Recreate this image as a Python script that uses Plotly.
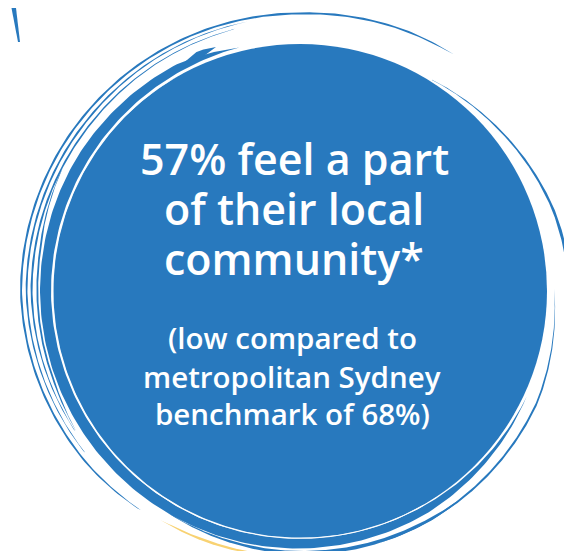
import numpy as np
import plotly.graph_objects as go

# ---- data ----
local_pct = 57
benchmark_pct = 68
headline_lines = [f"{local_pct}% feel a part", "of their local", "community*"]
note_lines = ["(low compared to", "metropolitan Sydney", f"benchmark of {benchmark_pct}%)"]

# ---- style ----
W, H = 572, 551
BLUE = "#2879BE"
YELLOW = "#F8D272"
CX, CY, R = 292, 283, 247


def arc_poly(thetas, radii, widths, n=240):
    thetas = np.asarray(thetas, float)
    u_k = (thetas - thetas[0]) / (thetas[-1] - thetas[0])
    u = np.linspace(0, 1, n)
    th = np.deg2rad(np.interp(u, u_k, thetas))
    r = np.interp(u, u_k, radii)
    w = np.interp(u, u_k, widths)
    ro, ri = r + w / 2, r - w / 2
    xo, yo = CX + ro * np.cos(th), CY - ro * np.sin(th)
    xi, yi = CX + ri * np.cos(th), CY - ri * np.sin(th)
    x = np.concatenate([xo, xi[::-1], xo[:1]])
    y = np.concatenate([yo, yi[::-1], yo[:1]])
    return x, y


strokes = [
    # (thetas, radii, widths, color, opacity)
    ([104, 118, 150, 180, 230, 270, 300, 335], [251, 254, 254.5, 254.5, 253.5, 252.5, 252, 250],
     [0, 8, 11, 11, 10.5, 10, 8, 0], BLUE, 1),
    ([109, 113, 117], [258, 257, 256], [0, 8, 0], BLUE, 1),
    ([56.9, 67, 90, 130, 180, 220, 234], [282, 281, 277.5, 278, 279, 274, 271],
     [0.4, 1.8, 2, 2, 2, 1.8, 0.4], BLUE, 1),
    ([101, 140, 180, 217], [274.5, 273, 273.5, 269], [0.3, 1.8, 1.8, 0.4], BLUE, 1),
    ([104, 140, 180, 212], [270, 268, 268.5, 265], [0.3, 1.5, 2.0, 0.3], BLUE, 1),
    ([150, 172, 200, 212], [268, 263, 262, 264], [0, 1.8, 1.8, 0], BLUE, 1),
    ([236.5, 270, 300, 308], [258, 262, 263, 263], [0, 4, 3, 0.8], BLUE, 1),
    ([58, 40, 18, 3, 0], [249, 256, 266, 270, 270.5], [0.3, 1.5, 2.5, 3.5, 1.5], BLUE, 1),
    ([1, -25, -50, -72], [254, 262, 263, 264], [0, 2, 2, 0.4], BLUE, 1),
    ([238.6, 250, 265], [268, 267, 266], [0.5, 2.5, 1.5], YELLOW, 1),
    # white separator lines between disk and brush band
    ([118, 150, 200, 250, 300], [247.2, 247.3, 247.3, 247.3, 247.3], [0, 1.4, 1.4, 1.4, 1.0], "white", 0.95),
    ([290, 310, 335], [247.3, 247.3, 247.5], [0.8, 0.8, 0], "white", 0.4),
]

fig = go.Figure()

fig.add_shape(type="circle", xref="x", yref="y", x0=CX - R, x1=CX + R, y0=CY - R, y1=CY + R,
              fillcolor=BLUE, line=dict(width=0), layer="below")

for th, rr, ww, col, op in strokes:
    x, y = arc_poly(th, rr, ww)
    fig.add_trace(go.Scatter(x=x, y=y, mode="lines", fill="toself", fillcolor=col,
                             line=dict(width=0, color=col), opacity=op,
                             hoverinfo="skip", showlegend=False))

# small tick at the top-left corner
fig.add_trace(go.Scatter(x=[3.5, 8.0, 12.0, 10.0, 3.5], y=[0, 0, 34, 34, 0], mode="lines", fill="toself",
                         fillcolor=BLUE, line=dict(width=0, color=BLUE), hoverinfo="skip", showlegend=False))

FONT = "Open Sans"
head_size, note_size = 43, 29.5
head_base = [176, 226, 276]
note_base = [348, 386.5, 424]
for txt, b in zip(headline_lines, head_base):
    fig.add_annotation(x=286, y=b - 0.6 * head_size, text=txt, showarrow=False, xanchor="center",
                       yanchor="middle", font=dict(family=FONT, size=head_size, color="white", weight=600))
for txt, b in zip(note_lines, note_base):
    fig.add_annotation(x=284, y=b - 0.62 * note_size, text=txt, showarrow=False, xanchor="center",
                       yanchor="middle", font=dict(family=FONT, size=note_size, color="white", weight=600))

fig.update_layout(width=W, height=H, margin=dict(l=0, r=0, t=0, b=0),
                  paper_bgcolor="white", plot_bgcolor="white", showlegend=False,
                  xaxis=dict(range=[0, W], visible=False, fixedrange=True),
                  yaxis=dict(range=[H, 0], visible=False, fixedrange=True))

fig.write_html("out.html", config={"displayModeBar": False})
